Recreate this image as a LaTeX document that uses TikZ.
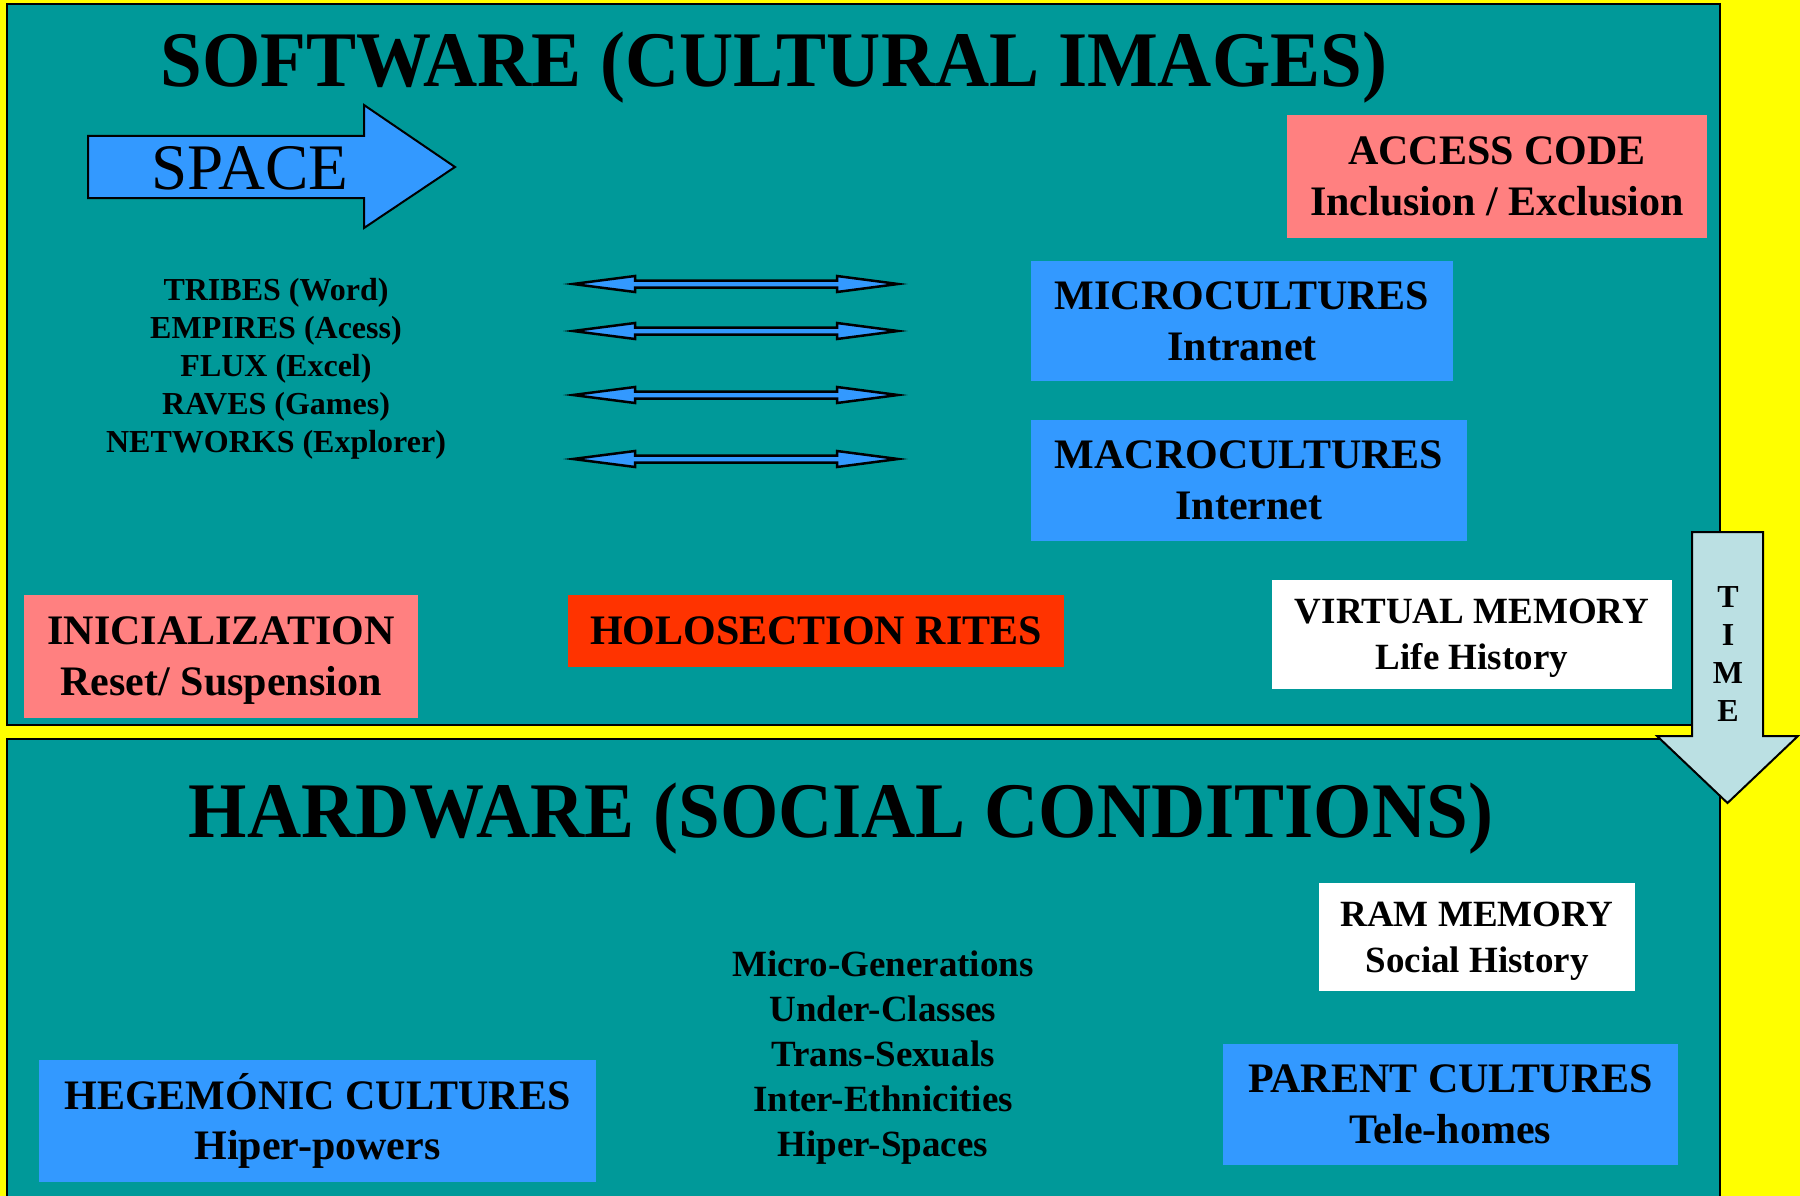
\documentclass[tikz,border=0pt]{standalone}
\usepackage{fontspec}
\setmainfont{Liberation Serif}
\definecolor{panelteal}{HTML}{009999}
\definecolor{backyellow}{HTML}{FFFF00}
\definecolor{cultureblue}{HTML}{3399FF}
\definecolor{codepink}{HTML}{FF8080}
\definecolor{riteorange}{HTML}{FF3300}
\definecolor{timeblue}{HTML}{BBE0E3}
% label lines: the first one carries a cap-height strut, all glyphs are smashed,
% so a label block is centred on its capitals
\newcommand\capfirst[1]{\rule{0pt}{0.655em}\smash{#1}}
\newcommand\capnext[1]{\smash{#1}}
\begin{document}
\begin{tikzpicture}[x=1pt,y=-1pt,
  panel/.style={fill=panelteal,draw=black,line width=2},
  titletext/.style={inner sep=0,yscale=1.05,font=\fontsize{75}{82}\selectfont\bfseries},
  boxlabel/.style={rectangle,inner sep=0,align=center,font=\fontsize{42}{51}\selectfont\bfseries},
  memlabel/.style={rectangle,inner sep=0,align=center,fill=white,font=\fontsize{37}{46}\selectfont\bfseries},
  listtext/.style={inner sep=0,align=center,font=\fontsize{32}{38}\selectfont\bfseries},
  grouptext/.style={inner sep=0,align=center,font=\fontsize{37}{45}\selectfont\bfseries},
  spacearrow/.style={fill=cultureblue,draw=black,line width=2,line join=miter},
  linkarrow/.style={fill=cultureblue,draw=black,line width=2.5,line join=miter},
  timearrow/.style={fill=timeblue,draw=black,line width=2,line join=miter}]
\useasboundingbox (0,0) rectangle (1800,1196);
\clip (0,0) rectangle (1800,1196);
\fill[backyellow] (0,0) rectangle (1800,1196);

% the two layers
\draw[panel] (7,4) rectangle (1720,725);
\draw[panel] (7,739) rectangle (1720,1215);

\node[titletext] (swtitle) at (774,61) {\capfirst{SOFTWARE (CULTURAL IMAGES)}};
\node[titletext] (hwtitle) at (841,812) {\capfirst{HARDWARE (SOCIAL CONDITIONS)}};

% space arrow
\draw[spacearrow] (88,136) -- (364,136) -- (364,105) -- (455,167) -- (364,228)
  -- (364,198) -- (88,198) -- cycle;
\node[inner sep=0,font=\fontsize{65}{72}\selectfont] (space) at (250,168.5) {\capfirst{SPACE}};

% software list
\node[listtext] (apps) at (276,366.5) {\capfirst{TRIBES (Word)}\\\capnext{EMPIRES (Acess)}\\
  \capnext{FLUX (Excel)}\\\capnext{RAVES (Games)}\\\capnext{NETWORKS (Explorer)}};

% double arrows (tips set inside so that the mitred outline ends at the tip)
\foreach \y in {284,331,395,459}{
  \draw[linkarrow] (573,\y) -- (635,\y-8) -- (635,\y-3.5) -- (837,\y-3.5) -- (837,\y-8)
    -- (898,\y) -- (837,\y+8) -- (837,\y+3.5) -- (635,\y+3.5) -- (635,\y+8) -- cycle;
}

% boxes of the software layer
\node[boxlabel,fill=codepink,minimum width=420,minimum height=123] (access) at (1497,176.5)
  {\capfirst{ACCESS CODE}\\\capnext{Inclusion / Exclusion}};
\node[boxlabel,fill=cultureblue,minimum width=422,minimum height=120] (micro) at (1242,321)
  {\capfirst{MICROCULTURES}\\\capnext{Intranet}};
\node[boxlabel,fill=cultureblue,minimum width=436,minimum height=121] (macro) at (1249,480.5)
  {\capfirst{MACROCULTURES}\\\capnext{Internet}};
\node[boxlabel,fill=codepink,minimum width=394,minimum height=123] (init) at (221,656.5)
  {\capfirst{INICIALIZATION}\\\capnext{Reset/ Suspension}};
\node[boxlabel,fill=riteorange,minimum width=496,minimum height=72] (rites) at (816,631)
  {\capfirst{HOLOSECTION RITES}};
\node[memlabel,minimum width=400,minimum height=109] (virtual) at (1472,634.5)
  {\capfirst{VIRTUAL MEMORY}\\\capnext{Life History}};

% time arrow
\draw[timearrow] (1692,532) -- (1763,532) -- (1763,736) -- (1798,736) -- (1727.5,803)
  -- (1657,736) -- (1692,736) -- cycle;
\node[listtext] (time) at (1728,654) {\capfirst{T}\\\capnext{I}\\\capnext{M}\\\capnext{E}};

% boxes of the hardware layer
\node[memlabel,minimum width=316,minimum height=108] (ram) at (1477,937)
  {\capfirst{RAM MEMORY}\\\capnext{Social History}};
\node[grouptext] (groups) at (883,1054.5) {\capfirst{Micro-Generations}\\\capnext{Under-Classes}\\
  \capnext{Trans-Sexuals}\\\capnext{Inter-Ethnicities}\\\capnext{Hiper-Spaces}};
\node[boxlabel,fill=cultureblue,minimum width=557,minimum height=122,
  font=\fontsize{42}{50}\selectfont\bfseries] (hegemonic) at (317.5,1121)
  {\capfirst{HEGEMÓNIC CULTURES}\\\capnext{Hiper-powers}};
\node[boxlabel,fill=cultureblue,minimum width=455,minimum height=121] (parent) at (1450.5,1104.5)
  {\capfirst{PARENT CULTURES}\\\capnext{Tele-homes}};
\end{tikzpicture}
\end{document}
